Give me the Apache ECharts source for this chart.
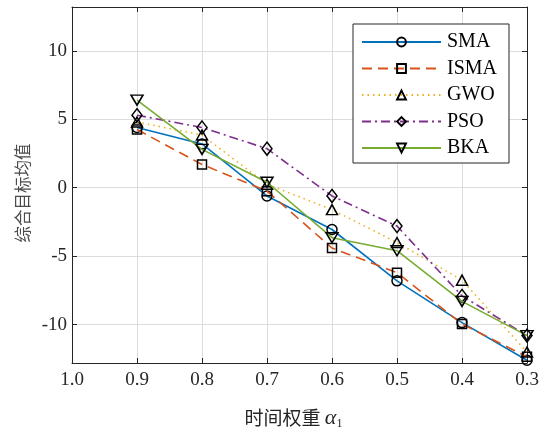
<!DOCTYPE html>
<html>
<head>
<meta charset="utf-8">
<script src="https://cdn.jsdelivr.net/npm/echarts@6/dist/echarts.min.js"></script>
<style>html,body{margin:0;padding:0;background:#fff;}#c{width:550px;height:435px;}</style>
</head>
<body>
<div id="c"></div>
<script>
var alphaValues = [0.9, 0.8, 0.7, 0.6, 0.5, 0.4, 0.3];
var seriesNames = ['SMA', 'ISMA', 'GWO', 'PSO', 'BKA'];
var smaValues  = [4.4, 3.2, -0.6, -3.05, -6.8, -9.85, -12.6];
var ismaValues = [4.25, 1.7, -0.25, -4.4, -6.2, -9.95, -12.35];
var gwoValues  = [4.8, 3.85, 0.25, -1.6, -4.0, -6.75, -12.0];
var psoValues  = [5.3, 4.4, 2.85, -0.6, -2.8, -7.9, -10.8];
var bkaValues  = [6.4, 2.8, 0.4, -3.65, -4.6, -8.3, -10.8];
var yTickValues = [-10, -5, 0, 5, 10];
var xTickValues = [1.0, 0.9, 0.8, 0.7, 0.6, 0.5, 0.4, 0.3];

var allValues = [smaValues, ismaValues, gwoValues, psoValues, bkaValues];
var colors = ['#0072BD', '#D95319', '#EDB120', '#7E2F8E', '#77AC30'];
var symbols = ['circle', 'rect', 'triangle', 'diamond', 'path://M0,0 L10,0 L5,9 Z'];
var symbolSizes = [10, 9, [11, 10], [10, 13], [12, 10]];
var lineTypes = ['solid', [10, 6], [1.5, 4], [9, 4, 2, 4], 'solid'];
var serif = '"Liberation Serif", "Times New Roman", serif';

function pairs(vals) {
  return alphaValues.map(function (a, i) { return [a, vals[i]]; });
}

var series = seriesNames.map(function (n, k) {
  return {
    name: n,
    type: 'line',
    data: pairs(allValues[k]),
    symbol: symbols[k],
    symbolSize: symbolSizes[k],
    showAllSymbol: true,
    lineStyle: { color: colors[k], width: 1.6, type: lineTypes[k] },
    itemStyle: { color: 'rgba(255,255,255,0)', borderColor: '#000', borderWidth: 1.5 },
    emphasis: { disabled: true },
    z: 3 + k
  };
});

var axisLineStyle = { color: '#262626', width: 1 };
var chart = echarts.init(document.getElementById('c'));
chart.setOption({
  animation: false,
  backgroundColor: '#fff',
  grid: { left: 72, right: 23, top: 7, bottom: 64 },
  legend: {
    orient: 'vertical',
    left: 353,
    top: 24,
    itemWidth: 79,
    itemHeight: 11,
    itemGap: 6.5,
    padding: [8, 12, 5, 8],
    borderColor: '#262626',
    borderWidth: 1,
    backgroundColor: '#fff',
    textStyle: { fontFamily: serif, fontSize: 20, color: '#000', lineHeight: 20, padding: [0, 0, 0, 1] },
    data: seriesNames
  },
  xAxis: [{
    type: 'value',
    min: 0.3, max: 1.0, interval: 0.1, inverse: true,
    axisLine: { onZero: false, lineStyle: axisLineStyle },
    axisTick: { inside: true, length: 5, lineStyle: axisLineStyle, customValues: xTickValues },
    axisLabel: { customValues: xTickValues, fontFamily: serif, fontSize: 19, color: '#262626', margin: 8,
      formatter: function (v) { return Number(v).toFixed(1); } },
    splitLine: { show: true, lineStyle: { color: '#dcdcdc', width: 1 } },
    name: '时间权重 {a|α}{s|1}',
    nameLocation: 'middle',
    nameGap: 43,
    nameTextStyle: {
      fontFamily: '"Noto Sans CJK SC", sans-serif', fontSize: 19, color: '#262626',
      padding: [0, 12, 0, 0],
      rich: {
        a: { fontFamily: serif, fontStyle: 'italic', fontSize: 22, color: '#262626' },
        s: { fontFamily: serif, fontSize: 12, color: '#262626', padding: [12, 0, 0, 0] }
      }
    }
  }, {
    type: 'value', position: 'top',
    min: 0.3, max: 1.0, interval: 0.1, inverse: true,
    axisLine: { onZero: false, lineStyle: axisLineStyle },
    axisTick: { inside: true, length: 5, lineStyle: axisLineStyle, customValues: xTickValues },
    axisLabel: { show: false },
    splitLine: { show: false }
  }],
  yAxis: [{
    type: 'value',
    min: -12.8, max: 13.2,
    axisLine: { onZero: false, lineStyle: axisLineStyle },
    axisTick: { inside: true, length: 5, lineStyle: axisLineStyle, customValues: yTickValues },
    axisLabel: { customValues: yTickValues, fontFamily: serif, fontSize: 19, color: '#262626', margin: 5 },
    splitLine: { show: true, customValues: yTickValues, lineStyle: { color: '#dcdcdc', width: 1 } },
    name: '综合目标均值',
    nameLocation: 'middle',
    nameGap: 35,
    nameTextStyle: { fontFamily: '"Noto Sans CJK SC", sans-serif', fontSize: 16.5, color: '#4a4a4a', padding: [0, 16, 0, 0] }
  }, {
    type: 'value', position: 'right',
    min: -12.8, max: 13.2,
    axisLine: { onZero: false, lineStyle: axisLineStyle },
    axisTick: { inside: true, length: 5, lineStyle: axisLineStyle, customValues: yTickValues },
    axisLabel: { show: false },
    splitLine: { show: false }
  }],
  series: series
});
</script>
</body>
</html>
